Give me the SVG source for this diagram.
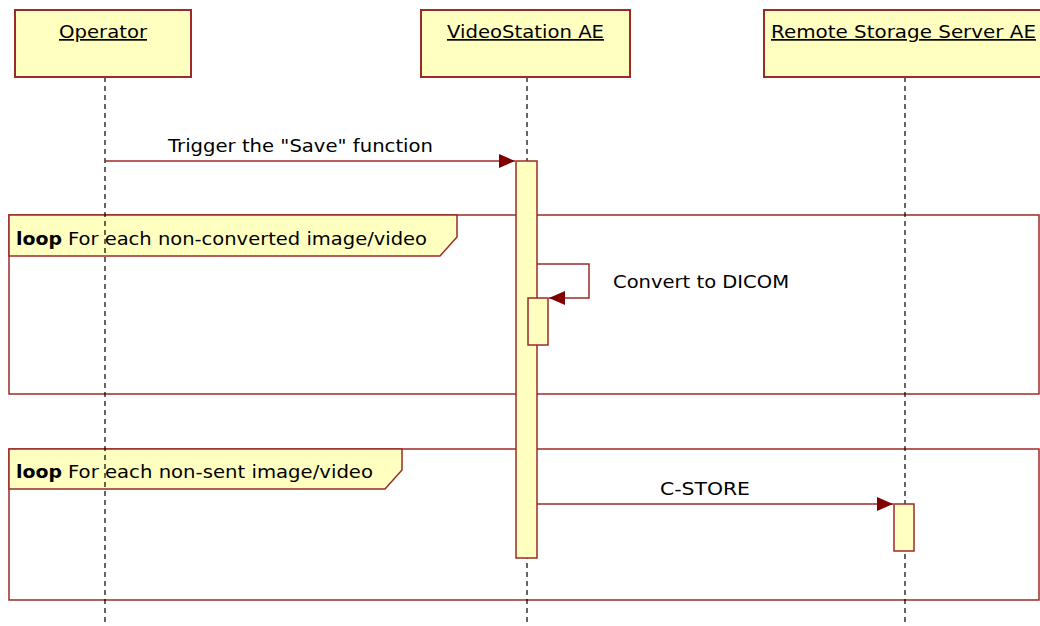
<svg xmlns="http://www.w3.org/2000/svg" width="1040" height="626" viewBox="0 0 1040 626">
<style>
.box{fill:#ffffc0;stroke:#9c2a2a;stroke-width:2}
.act{fill:#ffffc0;stroke:#9c2a2a;stroke-width:1.5}
.frame{fill:none;stroke:#9c2a2a;stroke-width:1.5}
.tab{fill:#ffffc0;stroke:#9c2a2a;stroke-width:1.5}
.life{stroke:#000;stroke-width:1.2;stroke-dasharray:5,4;fill:none}
.msg{stroke:#9c2a2a;stroke-width:1.5;fill:none}
text{font-family:"DejaVu Sans","Liberation Sans",sans-serif;font-size:17px;fill:#000}
.hdr{text-decoration:underline}
.kw{font-weight:bold}
</style>
<defs>
<marker id="arr" viewBox="0 0 16 14" refX="16" refY="7" markerWidth="16" markerHeight="14" markerUnits="userSpaceOnUse" orient="auto">
<path d="M0,0 L16,7 L0,14 Z" fill="#800000"/>
</marker>
</defs>
<g id="frames">
<g id="loop1">
<rect class="frame" x="9" y="215" width="1030" height="179"/>
<path class="tab" d="M9,215 H457 V237 L440,256 H9 Z"/>
<text class="kw" x="16" y="245" textLength="46" lengthAdjust="spacingAndGlyphs">loop</text>
<text x="68" y="245" textLength="359" lengthAdjust="spacingAndGlyphs">For each non-converted image/video</text>
</g>
<g id="loop2">
<rect class="frame" x="9" y="449" width="1030" height="151"/>
<path class="tab" d="M9,449 H402 V470 L385,489 H9 Z"/>
<text class="kw" x="16" y="478" textLength="46" lengthAdjust="spacingAndGlyphs">loop</text>
<text x="68" y="478" textLength="305" lengthAdjust="spacingAndGlyphs">For each non-sent image/video</text>
</g>
</g>
<g id="lifelines">
<line class="life" x1="105" y1="77" x2="105" y2="626"/>
<line class="life" x1="527" y1="77" x2="527" y2="626"/>
<line class="life" x1="905" y1="77" x2="905" y2="626"/>
</g>
<g id="operator">
<rect class="box" x="15" y="10" width="176" height="67"/>
<text class="hdr" x="59" y="38" textLength="88" lengthAdjust="spacingAndGlyphs">Operator</text>
</g>
<g id="videostation">
<rect class="box" x="421" y="10" width="209" height="67"/>
<text class="hdr" x="447" y="38" textLength="157" lengthAdjust="spacingAndGlyphs">VideoStation AE</text>
</g>
<g id="remote">
<rect class="box" x="764" y="10" width="290" height="67"/>
<text class="hdr" x="771" y="38" textLength="265" lengthAdjust="spacingAndGlyphs">Remote Storage Server AE</text>
</g>
<g id="activations">
<rect class="act" x="516" y="161" width="21" height="397"/>
<rect class="act" x="528" y="298" width="20" height="47"/>
<rect class="act" x="894" y="504" width="20" height="47"/>
</g>
<g id="connectors">
<line class="msg" x1="105" y1="161" x2="515" y2="161" marker-end="url(#arr)"/>
<text x="168" y="152" textLength="265" lengthAdjust="spacingAndGlyphs">Trigger the "Save" function</text>
<polyline class="msg" points="537,264 589,264 589,298 549,298" marker-end="url(#arr)"/>
<text x="613" y="288" textLength="176" lengthAdjust="spacingAndGlyphs">Convert to DICOM</text>
<line class="msg" x1="537" y1="504" x2="893" y2="504" marker-end="url(#arr)"/>
<text x="660" y="495" textLength="90" lengthAdjust="spacingAndGlyphs">C-STORE</text>
</g>
</svg>
